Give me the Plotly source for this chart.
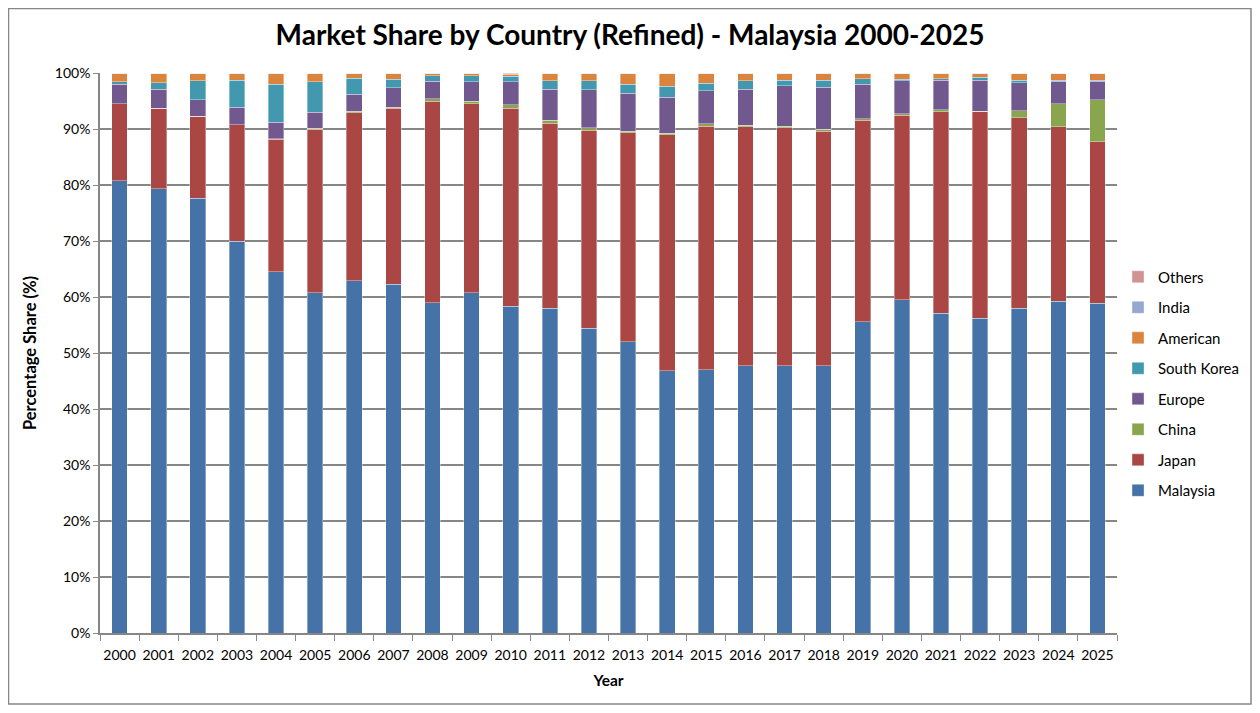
import plotly.graph_objects as go

# Años y cuotas de mercado (%)
years = [str(y) for y in range(2000, 2026)]

malaysia = [80.8, 79.3, 77.6, 70.0, 64.5, 60.8, 62.9, 62.3, 59.0, 60.8, 58.3, 58.0, 54.4,
            52.0, 46.8, 47.0, 47.7, 47.7, 47.7, 55.6, 59.5, 57.1, 56.2, 58.0, 59.2, 58.9]
japan = [13.7, 14.4, 14.7, 20.8, 23.7, 29.2, 30.0, 31.4, 36.0, 33.7, 35.3, 33.0, 35.4,
         37.3, 42.2, 43.5, 42.7, 42.5, 41.9, 36.0, 33.0, 36.0, 36.9, 34.0, 31.2, 28.8]
china = [0.0, 0.0, 0.0, 0.0, 0.1, 0.1, 0.3, 0.2, 0.4, 0.5, 0.6, 0.6, 0.4,
         0.3, 0.2, 0.4, 0.3, 0.3, 0.4, 0.2, 0.2, 0.3, 0.1, 1.3, 4.1, 7.5]
europe = [3.5, 3.4, 2.9, 3.1, 2.9, 2.9, 3.0, 3.5, 3.1, 3.4, 4.1, 5.5, 6.8,
          6.8, 6.5, 5.9, 6.4, 7.2, 7.5, 6.2, 5.9, 5.35, 5.55, 4.95, 4.0, 3.3]
south_korea = [0.4, 1.2, 3.4, 4.85, 6.8, 5.4, 2.9, 1.5, 1.0, 1.1, 1.0, 1.5, 1.6,
               1.6, 1.9, 1.4, 1.5, 1.05, 1.25, 0.95, 0.3, 0.2, 0.45, 0.5, 0.25, 0.2]
american = [1.5, 1.6, 1.3, 1.15, 1.9, 1.5, 0.8, 1.0, 0.4, 0.4, 0.4, 1.3, 1.3,
            1.9, 2.3, 1.7, 1.3, 1.15, 1.15, 0.95, 1.0, 0.95, 0.7, 1.15, 1.15, 1.2]
india = [0.05, 0.05, 0.05, 0.05, 0.05, 0.05, 0.05, 0.05, 0.05, 0.05, 0.1, 0.05, 0.05,
         0.05, 0.05, 0.05, 0.05, 0.05, 0.05, 0.05, 0.05, 0.05, 0.05, 0.05, 0.05, 0.05]
others = [0.05, 0.05, 0.05, 0.05, 0.05, 0.05, 0.05, 0.05, 0.05, 0.05, 0.1, 0.05, 0.05,
          0.05, 0.05, 0.05, 0.05, 0.05, 0.05, 0.05, 0.05, 0.05, 0.05, 0.05, 0.05, 0.05]

series = [
    ('Malaysia', malaysia, '#4572A7'),
    ('Japan', japan, '#AA4643'),
    ('China', china, '#89A54E'),
    ('Europe', europe, '#71588F'),
    ('South Korea', south_korea, '#4198AF'),
    ('American', american, '#DB843D'),
    ('India', india, '#93A9CF'),
    ('Others', others, '#D19392'),
]

fig = go.Figure()
for i, (name, vals, color) in enumerate(series):
    # legendrank: Others arriba, Malaysia abajo (como en Excel)
    fig.add_trace(go.Bar(x=years, y=vals, name=name, legendgroup=name,
                         legendrank=len(series) - i,
                         marker=dict(color=color, line=dict(width=0.6, color='rgba(255,255,255,0.6)'))))

font = 'Lato, Open Sans, sans-serif'
grey = '#868686'

# el body tiene 8px de margen: figura de 1244x697 para que no haya scroll
fig.update_layout(
    barmode='stack',
    barnorm='percent',
    bargap=0.6,
    width=1244, height=697,
    margin=dict(l=92, r=135, t=65, b=72),
    paper_bgcolor='white', plot_bgcolor='white',
    font=dict(family=font, size=14, color='black'),
    title=dict(text='<b>Market Share by Country (Refined) - Malaysia 2000-2025</b>',
               x=0.5, xanchor='center', y=0.9613, yanchor='middle',
               font=dict(size=28, family=font, color='black')),
    # leyenda en coordenadas del contenedor para que no empuje el margen
    legend=dict(xref='container', yref='container', x=0.8923, xanchor='left',
                y=0.6376, yanchor='top',
                traceorder='grouped', tracegroupgap=8,
                font=dict(size=15, family=font), itemwidth=30),
    xaxis=dict(title=dict(text='<b>Year</b>', font=dict(size=15.5), standoff=14),
               type='category', showline=True, linecolor=grey, linewidth=1.5,
               ticks='outside', tickson='boundaries', ticklen=6, tickcolor=grey,
               ticklabelstandoff=8,
               tickangle=0, tickfont=dict(size=14), mirror=False, automargin=False),
    yaxis=dict(title=dict(text='<b>Percentage Share (%)</b>', font=dict(size=16.5), standoff=14),
               range=[0, 100], dtick=10, ticksuffix='%',
               showline=True, linecolor=grey, linewidth=1.5,
               ticks='outside', ticklen=5, tickcolor=grey,
               showgrid=True, gridcolor=grey, gridwidth=1.5,
               tickfont=dict(size=14), zeroline=False, automargin=False),
)

# Marco exterior del área del gráfico
fig.add_shape(type='rect', xref='paper', yref='paper',
              x0=-91.5 / 1017, x1=1151 / 1017, y0=-71 / 560, y1=624.5 / 560,
              line=dict(color=grey, width=1.5), fillcolor='rgba(0,0,0,0)')

fig.write_html('out.html')
